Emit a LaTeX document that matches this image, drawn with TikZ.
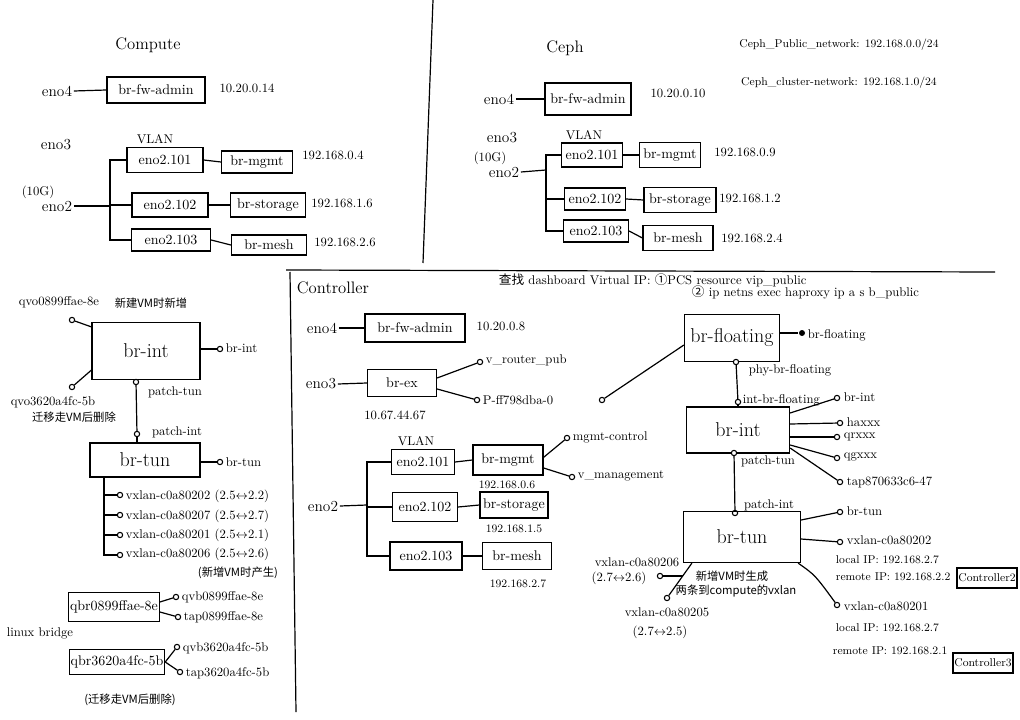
\documentclass[tikz,border=0pt]{standalone}
\usepackage{fontspec}
\newfontfamily\cjk{Noto Sans CJK SC}
\begin{document}
\begin{tikzpicture}[x=0.75pt,y=-0.75pt,
  every path/.style={line width=0.9pt},
  box/.style={draw, line width=0.9pt, inner sep=1pt, font=\fontsize{10.5}{12}\selectfont},
  big/.style={font=\fontsize{15}{17}\selectfont},
  wh/.style 2 args={minimum width=#1*0.75pt, minimum height=#2*0.75pt},
  lbl/.style={inner sep=1pt, font=\fontsize{9.5}{11}\selectfont},
  eno/.style={inner sep=1pt, font=\fontsize{11.5}{13}\selectfont},
  sml/.style={inner sep=1pt, font=\fontsize{8.5}{10}\selectfont},
  cjkl/.style={inner sep=1pt, font=\cjk\fontsize{8.5}{10}\selectfont},
  ttl/.style={inner sep=1pt, font=\fontsize{12.5}{15}\selectfont},
  port/.style={circle, draw, fill=white, inner sep=0pt, minimum size=4pt, line width=0.8pt},
  fdot/.style={circle, fill=black, inner sep=0pt, minimum size=4.5pt}]
\useasboundingbox (0,0) rectangle (1020,720);
\fill[white] (0,0) rectangle (1020,720);

% ---------- dividers ----------
\draw (433,0) -- (423,263);
\draw (286,270) -- (995,272);
\draw (290,272) -- (296,712);

% ---------- Compute ----------
\node[ttl] (c-title) at (148,45) {Compute};
\node[eno] (c-eno4) at (57,91) {eno4};
\node[box,wh={98}{26}] (c-fw) at (156,90) {br-fw-admin};
\draw (c-eno4.east) -- (c-fw.west);
\node[lbl] (c-ip4) at (247,88) {10.20.0.14};
\node[eno] (c-eno3) at (56,145) {eno3};
\node[lbl] (c-vlan) at (155,139) {VLAN};
\node[lbl] (c-10g) at (38,192) {(10G)};
\node[eno] (c-eno2) at (57,206) {eno2};
\node[box,wh={76}{25}] (c-e101) at (165,160) {eno2.101};
\node[box,wh={71}{22}] (c-mgmt) at (257,162) {br-mgmt};
\node[lbl] (c-ip0) at (333,155) {192.168.0.4};
\node[box,wh={76}{24}] (c-e102) at (170,205) {eno2.102};
\node[box,wh={75}{24}] (c-stor) at (268,205) {br-storage};
\node[lbl] (c-ip1) at (342,203) {192.168.1.6};
\node[box,wh={79}{22}] (c-e103) at (171,240) {eno2.103};
\node[box,wh={75}{20}] (c-mesh) at (269,245) {br-mesh};
\node[lbl] (c-ip2) at (345,242) {192.168.2.6};
\coordinate (c-trT) at (110,160);
\coordinate (c-trB) at (110,240);
\coordinate (c-j) at (110,206);
\draw (c-eno2.east) -- (c-j);
\draw (c-e101.west) -- (c-trT) -- (c-trB) -- (c-e103.west);
\draw (c-e102.west) -- (c-e102.west -| c-trT);
\draw (c-e101.east) -- (c-mgmt.west);
\draw (c-e102.east) -- (c-stor.west);
\draw (c-e103.east) -- (c-mesh.west);

% ---------- Ceph ----------
\node[ttl] (p-title) at (565,48) {Ceph};
\node[sml] (p-pub) at (839,45) {Ceph\_Public\_network: 192.168.0.0/24};
\node[sml] (p-clu) at (839,83) {Ceph\_cluster-network: 192.168.1.0/24};
\node[eno] (p-eno4) at (499,99) {eno4};
\node[box,wh={86}{32}] (p-fw) at (588,99) {br-fw-admin};
\draw (p-eno4.east) -- (p-fw.west);
\node[lbl] (p-ip4) at (678,93) {10.20.0.10};
\node[eno] (p-eno3) at (502,138) {eno3};
\node[lbl] (p-vlan) at (584,135) {VLAN};
\node[lbl] (p-10g) at (490,158) {(10G)};
\node[eno] (p-eno2) at (504,172) {eno2};
\node[box,wh={61}{24}] (p-e101) at (592,155) {eno2.101};
\node[box,wh={61}{25}] (p-mgmt) at (670,155) {br-mgmt};
\node[lbl] (p-ip0) at (745,152) {192.168.0.9};
\node[box,wh={61}{22}] (p-e102) at (595,199) {eno2.102};
\node[box,wh={72}{25}] (p-stor) at (680,200) {br-storage};
\node[lbl] (p-ip1) at (750,198) {192.168.1.2};
\node[box,wh={65}{22}] (p-e103) at (596,231) {eno2.103};
\node[box,wh={70}{25}] (p-mesh) at (678,238) {br-mesh};
\node[lbl] (p-ip2) at (752,238) {192.168.2.4};
\coordinate (p-trT) at (546,155);
\coordinate (p-trB) at (546,231);
\coordinate (p-j) at (546,170);
\draw (p-eno2.east) -- (p-j);
\draw (p-e101.west) -- (p-trT) -- (p-trB) -- (p-e103.west);
\draw (p-e102.west) -- (p-e102.west -| p-trT);
\draw (p-e101.east) -- (p-mgmt.west);
\draw (p-e102.east) -- (p-stor.west);
\draw (p-e103.east) -- (p-mesh.west);

% ---------- Left bottom (compute OVS) ----------
\node[lbl] (l-qvo1) at (59,302) {qvo0899ffae-8e};
\node[cjkl] (l-new) at (151,303) {新建VM时新增};
\node[box,big,wh={108}{57}] (l-int) at (146,351) {br-int};
\node[port] (l-p1) at (72,320) {};
\draw (l-p1) -- ([yshift=-3.75pt]l-int.north west);
\node[port] (l-p2) at (72,387) {};
\draw (l-p2) -- ([yshift=7.5pt]l-int.south west);
\node[lbl] (l-qvo2) at (53,402) {qvo3620a4fc-5b};
\node[cjkl] (l-del) at (74,417) {迁移走VM后删除};
\node[port] (l-pi) at (220,349) {};
\draw (l-int.east |- l-pi) -- (l-pi);
\node[lbl,anchor=west] (l-pil) at (224,348) {br-int};
\node[port] (l-pt) at (136,382) {};
\node[lbl] (l-ptl) at (175,392) {patch-tun};
\node[port] (l-pn) at (137,434) {};
\node[lbl] (l-pnl) at (177,432) {patch-int};
\draw (l-pt) -- (l-pn);
\node[box,big,wh={110}{34}] (l-tun) at (145,460) {br-tun};
\draw (l-pn) -- (l-pn |- l-tun.north);
\node[port] (l-pb) at (220,462) {};
\draw (l-tun.east |- l-pb) -- (l-pb);
\node[lbl,anchor=west] (l-pbl) at (224,462) {br-tun};
\coordinate (l-v0) at (104,477);
\coordinate (l-vb) at (104,555);
\node[port] (l-v1) at (120,495) {};
\node[port] (l-v2) at (120,515) {};
\node[port] (l-v3) at (120,535) {};
\node[port] (l-v4) at (120,555) {};
\draw (l-v0) -- (l-vb) -- (l-v4);
\draw (l-v1 -| l-v0) -- (l-v1);
\draw (l-v2 -| l-v0) -- (l-v2);
\draw (l-v3 -| l-v0) -- (l-v3);
\node[lbl,anchor=west] (l-v1l) at (124,496) {vxlan-c0a80202 (2.5$\leftrightarrow$2.2)};
\node[lbl,anchor=west] (l-v2l) at (124,516) {vxlan-c0a80207 (2.5$\leftrightarrow$2.7)};
\node[lbl,anchor=west] (l-v3l) at (124,535) {vxlan-c0a80201 (2.5$\leftrightarrow$2.1)};
\node[lbl,anchor=west] (l-v4l) at (124,554) {vxlan-c0a80206 (2.5$\leftrightarrow$2.6)};
\node[cjkl] (l-gen) at (238,573) {(新增VM时产生)};
\node[box,wh={88}{29}] (l-qbr1) at (114,607) {qbr0899ffae-8e};
\node[port] (l-qvb1) at (176,597) {};
\node[port] (l-tap1) at (178,617) {};
\draw ([yshift=3.75pt]l-qbr1.east) -- (l-qvb1);
\draw ([yshift=-3.75pt]l-qbr1.east) -- (l-tap1);
\node[lbl,anchor=west] (l-qvb1l) at (180,597) {qvb0899ffae-8e};
\node[lbl,anchor=west] (l-tap1l) at (182,617) {tap0899ffae-8e};
\node[lbl] (l-lb) at (40,633) {linux bridge};
\node[box,wh={90}{25}] (l-qbr2) at (117,662) {qbr3620a4fc-5b};
\node[port] (l-qvb2) at (177,647) {};
\node[port] (l-tap2) at (180,672) {};
\draw (l-qbr2.east) -- (l-qvb2);
\draw (l-qbr2.east) -- (l-tap2);
\node[lbl,anchor=west] (l-qvb2l) at (181,648) {qvb3620a4fc-5b};
\node[lbl,anchor=west] (l-tap2l) at (184,673) {tap3620a4fc-5b};
\node[cjkl] (l-mig) at (130,700) {(迁移走VM后删除)};

% ---------- Controller ----------
\node[ttl] (x-title) at (333,288) {Controller};
\node[lbl,anchor=west] (x-h1) at (497,280) {{\cjk 查找} dashboard Virtual IP: {\cjk ①}PCS resource vip\_public};
\node[lbl,anchor=west] (x-h2) at (690,292) {{\cjk ②} ip netns exec haproxy ip a s b\_public};
\node[eno] (x-eno4) at (322,328) {eno4};
\node[box,wh={100}{28}] (x-fw) at (415,328) {br-fw-admin};
\draw (x-eno4.east) -- (x-fw.west);
\node[lbl] (x-ip4) at (501,326) {10.20.0.8};
\node[eno] (x-eno3) at (321,384) {eno3};
\node[box,wh={69}{27}] (x-ex) at (402,383) {br-ex};
\draw (x-eno3.east) -- (x-ex.west);
\node[port] (x-vr) at (480,362) {};
\node[port] (x-pf) at (477,400) {};
\draw ([yshift=3.75pt]x-ex.east) -- (x-vr);
\draw ([yshift=-4.5pt]x-ex.east) -- (x-pf);
\node[lbl,anchor=west] (x-vrl) at (484,360) {v\_router\_pub};
\node[lbl,anchor=west] (x-pfl) at (481,400) {P-ff798dba-0};
\node[port] (x-pf2) at (602,400) {};
\node[lbl] (x-ipex) at (395,415) {10.67.44.67};
\node[lbl] (x-vlan) at (416,441) {VLAN};
\node[eno] (x-eno2) at (323,506) {eno2};
\node[box,wh={63}{25}] (x-e101) at (423,462) {eno2.101};
\node[box,wh={70}{30}] (x-mgmt) at (508,460) {br-mgmt};
\node[port] (x-mc) at (567,438) {};
\node[port] (x-vm) at (572,477) {};
\draw ([yshift=2pt]x-mgmt.east) -- (x-mc);
\draw ([yshift=-6pt]x-mgmt.east) -- (x-vm);
\node[lbl,anchor=west] (x-mcl) at (571,437) {mgmt-control};
\node[lbl,anchor=west] (x-vml) at (576,476) {v\_management};
\node[sml] (x-ip0) at (507,485) {192.168.0.6};
\node[box,wh={65}{29}] (x-e102) at (425,507) {eno2.102};
\node[box,wh={68}{26}] (x-stor) at (514,505) {br-storage};
\node[sml] (x-ip1) at (514,529) {192.168.1.5};
\node[box,wh={72}{28}] (x-e103) at (426,556) {eno2.103};
\node[box,wh={69}{27}] (x-mesh) at (517,556) {br-mesh};
\node[sml] (x-ip2) at (518,584) {192.168.2.7};
\coordinate (x-trT) at (367,462);
\coordinate (x-trB) at (367,556);
\coordinate (x-j) at (367,505);
\draw (x-eno2.east) -- (x-j);
\draw (x-e101.west) -- (x-trT) -- (x-trB) -- (x-e103.west);
\draw (x-e102.west) -- (x-e102.west -| x-trT);
\draw (x-e101.east) -- (x-mgmt.west);
\draw (x-e102.east) -- (x-stor.west);
\draw (x-e103.east) -- (x-mesh.west);

% br-floating
\node[box,big,wh={95}{47}] (x-flo) at (732,338) {br-floating};
\draw (x-pf2) -- ([yshift=-5.25pt]x-flo.west);
\node[fdot] (x-fd) at (802,333) {};
\draw (x-flo.east |- x-fd) -- (x-fd);
\node[lbl,anchor=west] (x-fdl) at (806,335) {br-floating};
\node[port] (x-phy) at (736,362) {};
\node[lbl] (x-phyl) at (790,370) {phy-br-floating};
\node[port] (x-ibf) at (738,402) {};
\node[lbl,anchor=west] (x-ibfl) at (741,400) {int-br-floating};
\draw (x-phy) -- (x-ibf);

% br-int
\node[box,big,wh={103}{46}] (x-int) at (738,430) {br-int};
\draw (x-ibf) -- (x-ibf |- x-int.north);
\node[port] (x-q1) at (837,398) {};
\node[port] (x-q2) at (840,423) {};
\node[port] (x-q3) at (837,437) {};
\node[port] (x-q4) at (837,458) {};
\node[port] (x-q5) at (840,482) {};
\draw ([yshift=12.75pt]x-int.east) -- (x-q1);
\draw ([yshift=4.5pt]x-int.east) -- (x-q2);
\draw ([yshift=-5.25pt]x-int.east) -- (x-q3);
\draw ([yshift=-11.25pt]x-int.east) -- (x-q4);
\draw ([yshift=-13.5pt]x-int.east) -- (x-q5);
\node[lbl,anchor=west] (x-q1l) at (842,397) {br-int};
\node[lbl,anchor=west] (x-q2l) at (845,422) {haxxx};
\node[lbl,anchor=west] (x-q3l) at (842,437) {qrxxx};
\node[lbl,anchor=west] (x-q4l) at (842,457) {qgxxx};
\node[lbl,anchor=west] (x-q5l) at (845,482) {tap870633c6-47};
\node[port] (x-pt) at (734,453) {};
\node[lbl] (x-ptl) at (768,461) {patch-tun};
\node[port] (x-pn) at (735,513) {};
\node[lbl] (x-pnl) at (769,505) {patch-int};
\draw (x-pt) -- (x-pn);

% br-tun
\node[box,big,wh={117}{51}] (x-tun) at (742,537) {br-tun};
\node[port] (x-t1) at (840,512) {};
\node[port] (x-t2) at (840,542) {};
\node[port] (x-t3) at (837,605) {};
\draw ([yshift=12.75pt]x-tun.east) -- (x-t1);
\draw ([yshift=-1.5pt]x-tun.east) -- (x-t2);
\draw ([xshift=-2.25pt]x-tun.south east) .. controls (815,575) .. (x-t3);
\node[lbl,anchor=west] (x-t1l) at (845,511) {br-tun};
\node[lbl,anchor=west] (x-t2l) at (845,540) {vxlan-c0a80202};
\node[sml,anchor=west] (x-t2a) at (834,560) {local IP: 192.168.2.7};
\node[sml,anchor=west] (x-t2b) at (834,577) {remote IP: 192.168.2.2};
\node[box,sml,wh={57}{20}] (x-c2) at (987,578) {Controller2};
\node[lbl,anchor=west] (x-t3l) at (842,606) {vxlan-c0a80201};
\node[sml,anchor=west] (x-t3a) at (834,628) {local IP: 192.168.2.7};
\node[sml,anchor=west] (x-t3b) at (831,651) {remote IP: 192.168.2.1};
\node[box,sml,wh={60}{20}] (x-c3) at (983,663) {Controller3};
\node[cjkl] (x-cn1) at (732,576) {新增VM时生成};
\node[cjkl] (x-cn2) at (736,591) {两条到compute的vxlan};
\node[port] (x-v6) at (660,576) {};
\node[port] (x-v5) at (667,598) {};
\coordinate (x-v6j) at (683,576);
\draw (x-v6) -- (x-v6j);
\draw (x-v5) -- ([xshift=6.75pt]x-tun.south west);
\node[lbl] (x-v6l) at (637,562) {vxlan-c0a80206};
\node[lbl] (x-v6r) at (619,578) {(2.7$\leftrightarrow$2.6)};
\node[lbl] (x-v5l) at (667,612) {vxlan-c0a80205};
\node[lbl] (x-v5r) at (660,632) {(2.7$\leftrightarrow$2.5)};
\end{tikzpicture}
\end{document}
